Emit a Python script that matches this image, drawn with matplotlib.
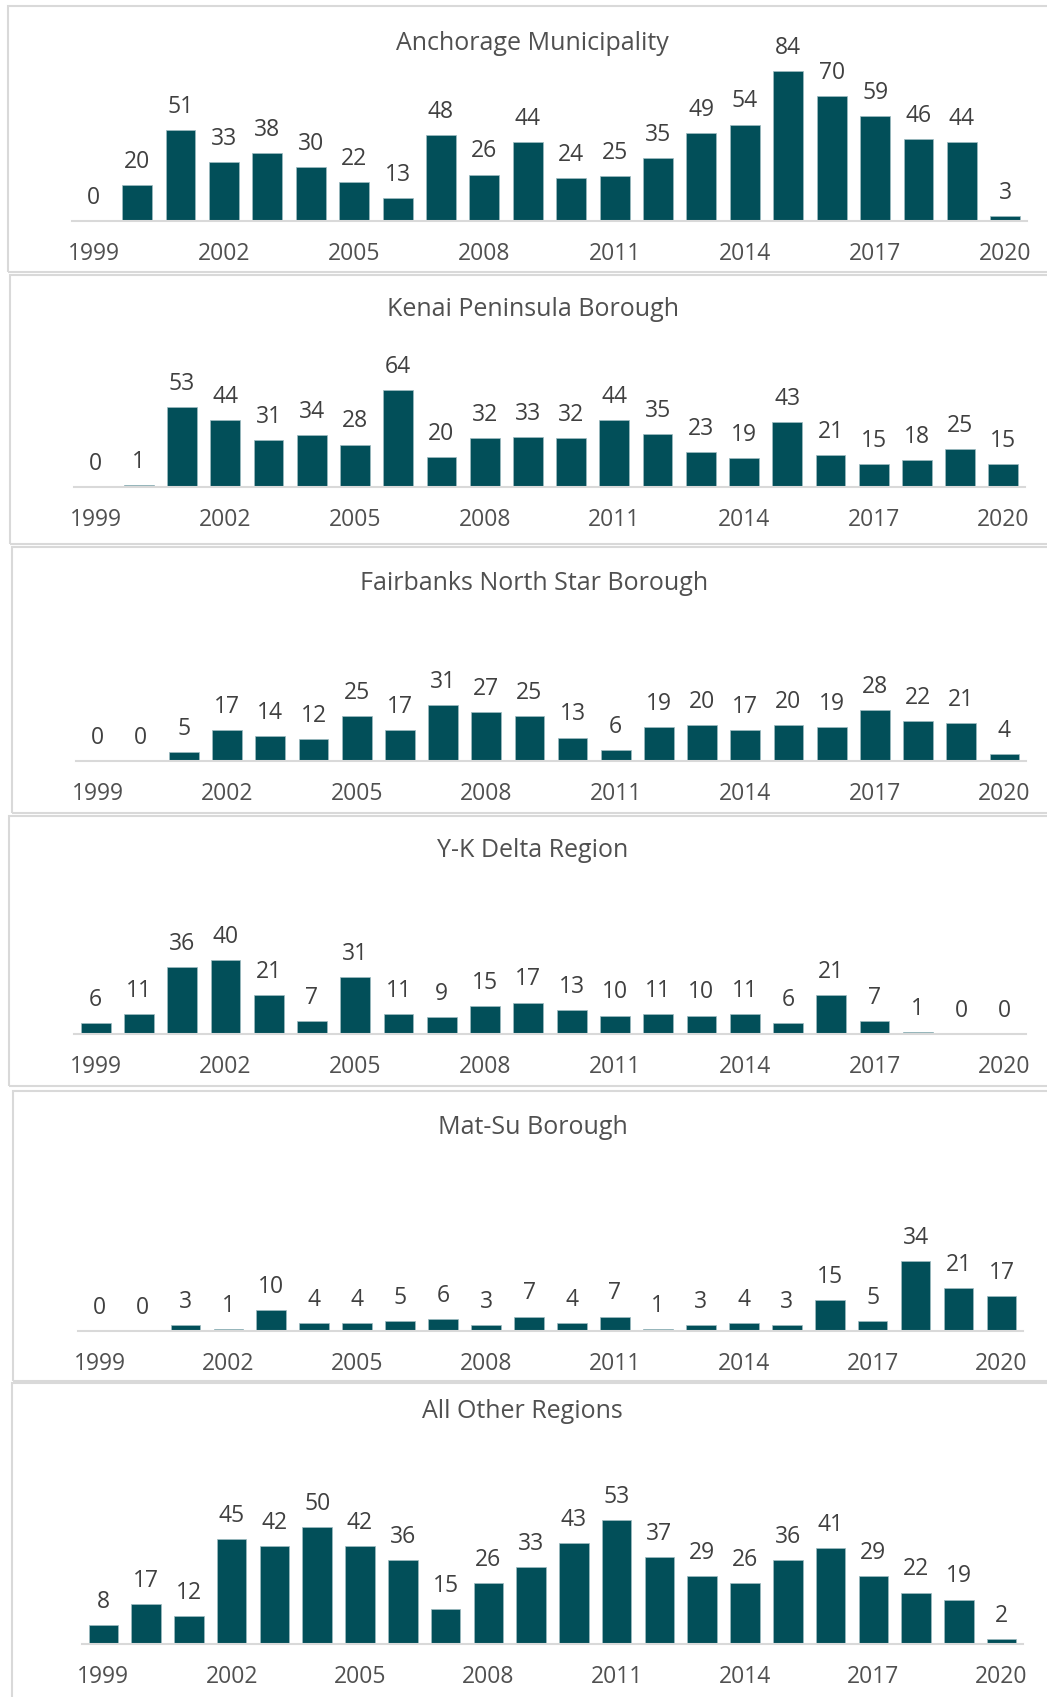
import matplotlib.pyplot as plt
from matplotlib.patches import Rectangle

plt.rcParams['font.family'] = ['Open Sans', 'DejaVu Sans']

years = list(range(1999, 2021))

anchorage = [0, 20, 51, 33, 38, 30, 22, 13, 48, 26, 44, 24, 25, 35, 49, 54, 84, 70, 59, 46, 44, 3]
kenai = [0, 1, 53, 44, 31, 34, 28, 64, 20, 32, 33, 32, 44, 35, 23, 19, 43, 21, 15, 18, 25, 15]
fairbanks = [0, 0, 5, 17, 14, 12, 25, 17, 31, 27, 25, 13, 6, 19, 20, 17, 20, 19, 28, 22, 21, 4]
yk_delta = [6, 11, 36, 40, 21, 7, 31, 11, 9, 15, 17, 13, 10, 11, 10, 11, 6, 21, 7, 1, 0, 0]
mat_su = [0, 0, 3, 1, 10, 4, 4, 5, 6, 3, 7, 4, 7, 1, 3, 4, 3, 15, 5, 34, 21, 17]
other = [8, 17, 12, 45, 42, 50, 42, 36, 15, 26, 33, 43, 53, 37, 29, 26, 36, 41, 29, 22, 19, 2]

titles = ["Anchorage Municipality", "Kenai Peninsula Borough", "Fairbanks North Star Borough",
          "Y-K Delta Region", "Mat-Su Borough", "All Other Regions"]
series = [anchorage, kenai, fairbanks, yk_delta, mat_su, other]

W, H = 1047, 1697
BAR = "#024f59"
GRID = "#d9d9d9"

# layout in pixels: left, right, baseline, px per unit, title y, title x, box left, box top, box bottom
layout = [
    (72, 1027, 221, 1.786, 43, 532, 8, 6, 272),
    (74, 1025, 487, 1.516, 310, 533, 10, 275, 544),
    (76, 1026, 761, 1.806, 583, 534, 12, 547, 813),
    (74, 1026, 1034, 1.85, 851, 533, 9, 816, 1086),
    (78, 1023, 1331, 2.06, 1127, 533, 13, 1091, 1381),
    (82, 1023, 1644, 2.34, 1411, 522, 12, 1383, 1710),
]

fig = plt.figure(figsize=(W / 100, H / 100), dpi=100)

for vals, title, (l, r, base, ppu, ty, tx, bl, bt, bb) in zip(series, titles, layout):
    # panel frame
    fig.patches.append(Rectangle((bl / W, 1 - bb / H), (W + 20 - bl) / W, (bb - bt) / H,
                                 transform=fig.transFigure, fill=False,
                                 edgecolor=GRID, lw=1.5, zorder=0))
    ymax = 100
    top = base - ppu * ymax
    ax = fig.add_axes([l / W, 1 - base / H, (r - l) / W, (base - top) / H])
    ax.set_facecolor("none")
    x = list(range(len(years)))
    ax.bar(x, vals, width=0.69, color=BAR, edgecolor="#9fbcc1", linewidth=0.5)
    for xi, v in zip(x, vals):
        ax.annotate(str(v), (xi, v), xytext=(0, 8), textcoords="offset points",
                    ha="center", va="bottom", fontsize=16.5, color="#404040")
    ax.set_xlim(-0.5, len(years) - 0.5)
    ax.set_ylim(0, ymax)
    ax.set_xticks(x[::3])
    ax.set_xticklabels([str(y) for y in years[::3]])
    ax.tick_params(axis="x", length=0, pad=15, labelsize=16.5, labelcolor="#505050")
    ax.set_yticks([])
    for s in ["top", "left", "right"]:
        ax.spines[s].set_visible(False)
    ax.spines["bottom"].set_color(GRID)
    ax.spines["bottom"].set_linewidth(1.5)
    fig.text(tx / W, 1 - ty / H, title, ha="center", va="center",
             fontsize=18, color="#505050")

fig.savefig("out.png", dpi=100, facecolor="white")
